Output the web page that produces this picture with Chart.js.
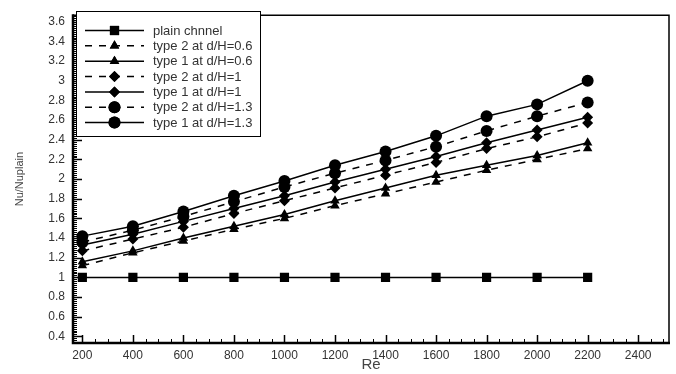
<!DOCTYPE html>
<html><head><meta charset="utf-8">
<script src="https://cdn.jsdelivr.net/npm/chart.js@4"></script>
<style>html,body{margin:0;padding:0;background:#fff}</style>
</head><body>
<canvas id="c" width="676" height="374"></canvas>
<script>
const reValues   = [200, 400, 600, 800, 1000, 1200, 1400, 1600, 1800, 2000, 2200];
const plainChannel = [1, 1, 1, 1, 1, 1, 1, 1, 1, 1, 1];
const type2_06 = [1.12, 1.25, 1.37, 1.49, 1.60, 1.73, 1.85, 1.97, 2.09, 2.20, 2.31];
const type1_06 = [1.16, 1.27, 1.40, 1.52, 1.64, 1.78, 1.91, 2.04, 2.14, 2.24, 2.37];
const type2_10 = [1.27, 1.39, 1.51, 1.65, 1.78, 1.91, 2.04, 2.17, 2.31, 2.43, 2.57];
const type1_10 = [1.33, 1.44, 1.57, 1.70, 1.83, 1.97, 2.10, 2.23, 2.37, 2.50, 2.63];
const type2_13 = [1.36, 1.48, 1.62, 1.77, 1.92, 2.06, 2.19, 2.33, 2.49, 2.64, 2.78];
const type1_13 = [1.42, 1.52, 1.67, 1.83, 1.98, 2.14, 2.28, 2.44, 2.64, 2.76, 3.00];
const seriesLabels = ['plain chnnel', 'type 2 at d/H=0.6', 'type 1 at d/H=0.6', 'type 2 at d/H=1', 'type 1 at d/H=1', 'type 2 at d/H=1.3', 'type 1 at d/H=1.3'];
const xTicks = [200, 400, 600, 800, 1000, 1200, 1400, 1600, 1800, 2000, 2200, 2400];
const yTicks = [0.4, 0.6, 0.8, 1, 1.2, 1.4, 1.6, 1.8, 2, 2.2, 2.4, 2.6, 2.8, 3, 3.2, 3.4, 3.6];
const xTitle = 'Re';
const yTitle = 'Nu/Nuplain';

const FONT = "'Liberation Sans', Arial, sans-serif";
const DASH = [7, 7];

function mk(label, values, style, radius, dashed) {
  return {
    label,
    data: reValues.map((x, i) => ({ x, y: values[i] })),
    borderColor: '#000', backgroundColor: '#000',
    pointBackgroundColor: '#000', pointBorderColor: '#000',
    borderWidth: 1.5, pointBorderWidth: 0,
    pointStyle: style, pointRadius: radius,
    borderDash: dashed ? DASH : [],
    tension: 0, fill: false
  };
}

const datasets = [
  mk(seriesLabels[0], plainChannel, 'rect', 6.5, false),
  mk(seriesLabels[1], type2_06, 'triangle', 5.5, true),
  mk(seriesLabels[2], type1_06, 'triangle', 5.5, false),
  mk(seriesLabels[3], type2_10, 'rectRot', 5.5, true),
  mk(seriesLabels[4], type1_10, 'rectRot', 5.5, false),
  mk(seriesLabels[5], type2_13, 'circle', 6, true),
  mk(seriesLabels[6], type1_13, 'circle', 6, false)
];

const decor = {
  id: 'decor',
  afterDraw(chart) {
    const { ctx, chartArea: a, scales: { x, y } } = chart;
    ctx.save();
    ctx.strokeStyle = '#000';
    ctx.lineWidth = 1;
    // y minor ticks (every 0.02) inward
    ctx.beginPath();
    for (let k = 17; k <= 183; k++) {
      const py = Math.round(y.getPixelForValue(k * 0.02)) + 0.5;
      if (py < a.top || py > a.bottom) continue;
      ctx.moveTo(a.left, py); ctx.lineTo(a.left + 4, py);
    }
    // x minor ticks (every 50)
    for (let k = 4; k <= 50; k++) {
      const px = Math.round(x.getPixelForValue(k * 50)) + 0.5;
      if (px < a.left || px > a.right) continue;
      ctx.moveTo(px, a.bottom); ctx.lineTo(px, a.bottom - 4);
    }
    ctx.stroke();
    // major ticks
    ctx.lineWidth = 1.5;
    ctx.beginPath();
    yTicks.forEach(v => {
      const py = Math.round(y.getPixelForValue(v)) + 0.5;
      ctx.moveTo(a.left, py); ctx.lineTo(a.left + 9, py);
    });
    xTicks.forEach(v => {
      const px = Math.round(x.getPixelForValue(v)) + 0.5;
      ctx.moveTo(px, a.bottom); ctx.lineTo(px, a.bottom - 8);
    });
    ctx.stroke();
    // frame
    ctx.lineWidth = 1.5;
    ctx.beginPath();
    ctx.moveTo(a.left, a.top); ctx.lineTo(a.right, a.top); ctx.lineTo(a.right, a.bottom);
    ctx.stroke();
    ctx.lineWidth = 2.5;
    ctx.beginPath();
    ctx.moveTo(a.left, a.top - 1); ctx.lineTo(a.left, a.bottom); ctx.lineTo(a.right + 1, a.bottom);
    ctx.stroke();

    // legend
    const bx = 76.5, by = 11.5, bw = 184, bh = 125;
    ctx.fillStyle = '#fff';
    ctx.fillRect(bx, by, bw, bh);
    ctx.lineWidth = 1;
    ctx.strokeRect(bx, by, bw, bh);
    ctx.font = '13px ' + FONT;
    ctx.textBaseline = 'middle';
    ctx.textAlign = 'left';
    chart.data.datasets.forEach((ds, i) => {
      const cy = 30.5 + i * 15.35;
      ctx.strokeStyle = '#000';
      ctx.lineWidth = 1.5;
      ctx.setLineDash(ds.borderDash);
      ctx.beginPath();
      ctx.moveTo(85, cy); ctx.lineTo(144, cy);
      ctx.stroke();
      ctx.setLineDash([]);
      ctx.fillStyle = '#000';
      Chart.helpers.drawPoint(ctx, { pointStyle: ds.pointStyle, radius: ds.pointRadius, borderWidth: 0 }, 114.5, cy);
      ctx.fill();
      ctx.fillStyle = '#333';
      ctx.fillText(ds.label, 153, cy + 0.5);
    });
    ctx.restore();
  }
};

new Chart(document.getElementById('c'), {
  type: 'line',
  data: { datasets },
  plugins: [decor],
  options: {
    responsive: false,
    animation: false,
    devicePixelRatio: 1,
    layout: { padding: { left: 0, right: 7, top: 12, bottom: 0 } },
    plugins: { legend: { display: false }, tooltip: { enabled: false } },
    scales: {
      x: {
        type: 'linear', min: 163, max: 2522,
        afterBuildTicks: s => { s.ticks = xTicks.map(v => ({ value: v })); },
        afterFit: s => { s.height = 31; },
        grid: { display: false, drawTicks: false },
        border: { display: false },
        ticks: { padding: 5, autoSkip: false, maxRotation: 0, color: '#333',
                 font: { family: FONT, size: 12 }, callback: v => String(v) },
        title: { display: true, text: xTitle, color: '#444',
                 font: { family: FONT, size: 15 }, padding: { top: 0, bottom: 0 } }
      },
      y: {
        type: 'linear', min: 0.333, max: 3.667,
        afterBuildTicks: s => { s.ticks = yTicks.map(v => ({ value: v })); },
        afterFit: s => { s.width = 73; },
        grid: { display: false, drawTicks: false },
        border: { display: false },
        ticks: { padding: 8, autoSkip: false, color: '#333',
                 font: { family: FONT, size: 12 }, callback: v => String(+v.toFixed(1)) },
        title: { display: true, text: yTitle, color: '#444',
                 font: { family: FONT, size: 11 }, padding: { top: 13, bottom: 0 } }
      }
    }
  }
});
</script>
</body></html>
